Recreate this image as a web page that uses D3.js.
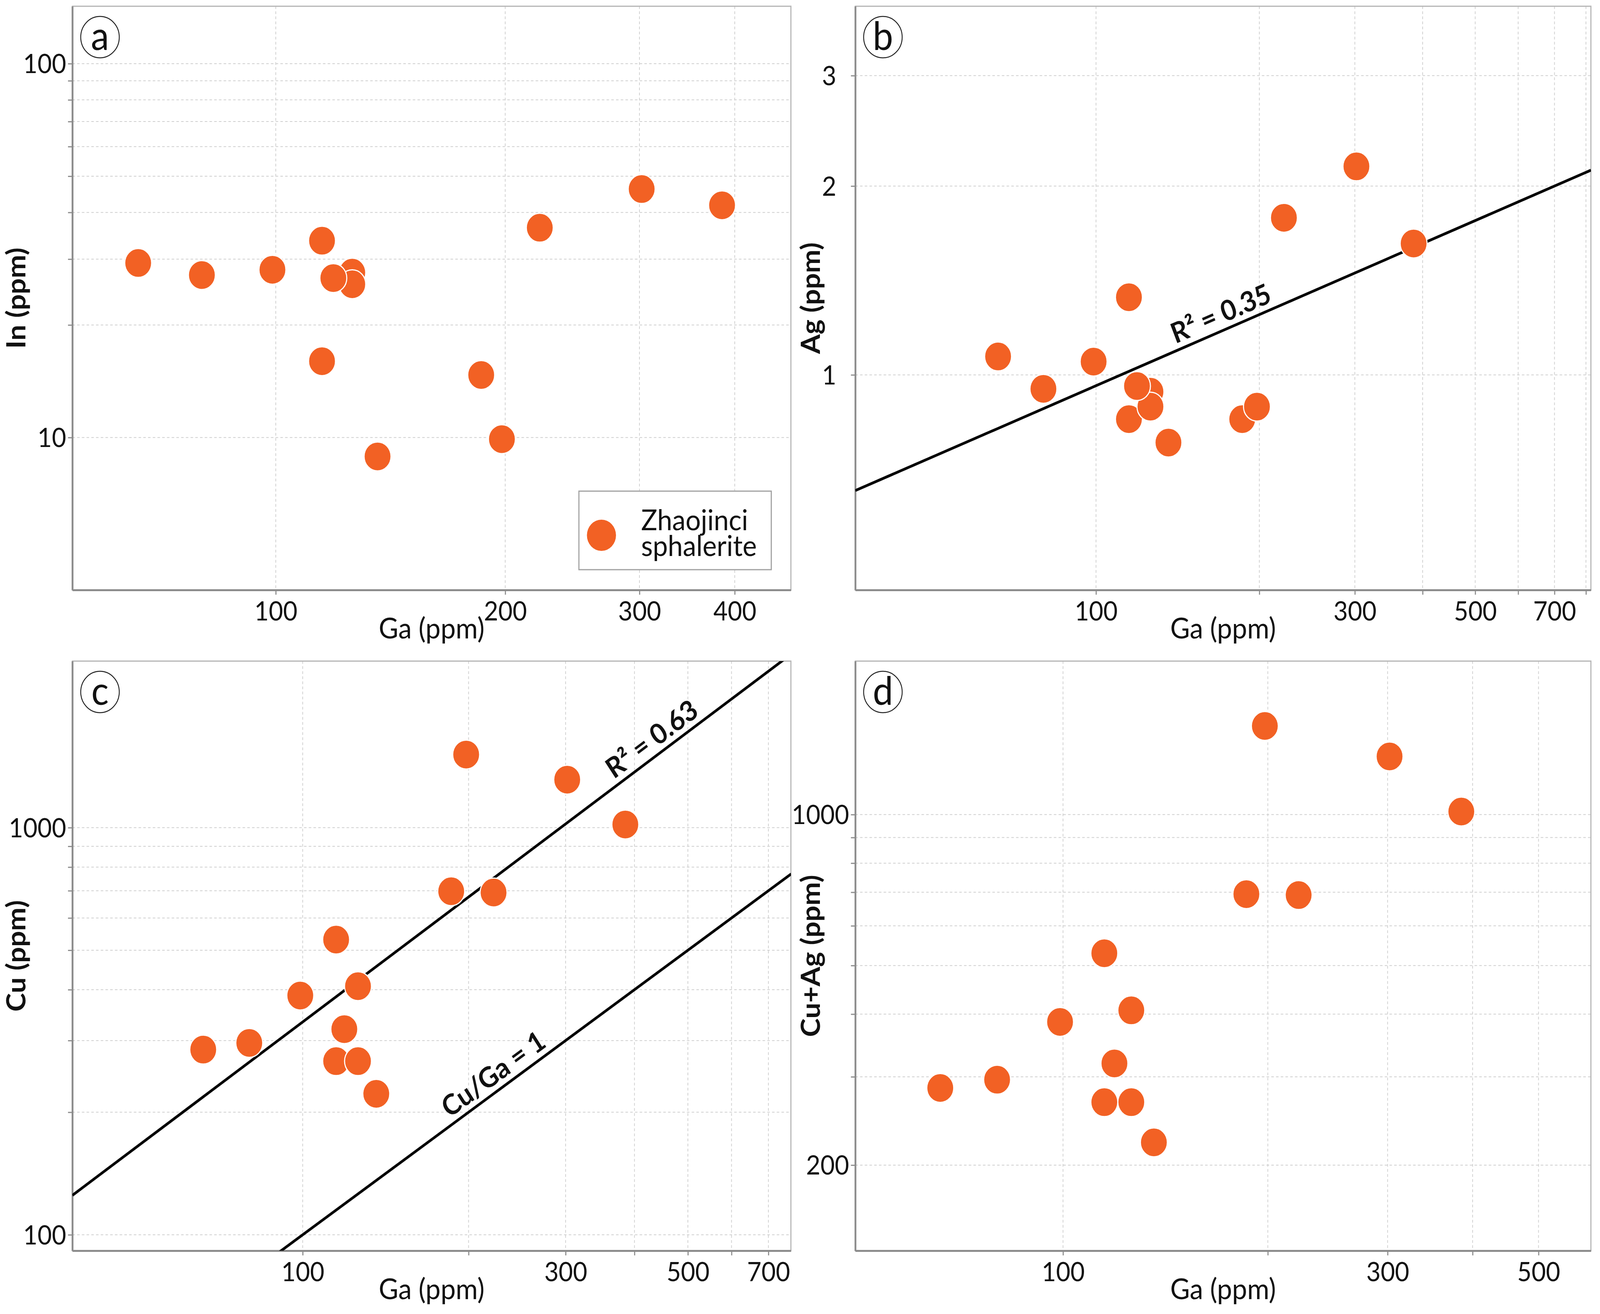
<!DOCTYPE html>
<html>
<head>
<meta charset="utf-8">
<script src="https://cdn.jsdelivr.net/npm/d3@7"></script>
<style>
  html, body { margin: 0; padding: 0; background: #fff; overflow: hidden; }
  svg { display: block; }
  text { font-family: Lato, "Open Sans", sans-serif; fill: #111; }
</style>
</head>
<body>
<script>
// canvas size
var width = 4400;
var height = 3363;

// samples (same Ga for every panel)
var gaPpm   = [66, 80, 99, 115, 115, 126, 126, 119, 136, 186, 198, 222, 302, 385];
var inPpm   = [29.3, 27.2, 28.1, 33.6, 16.0, 27.6, 25.7, 26.7, 8.9, 14.7, 9.9, 36.4, 46.2, 41.8];
var agPpm   = [1.07, 0.95, 1.05, 1.33, 0.85, 0.94, 0.89, 0.96, 0.78, 0.85, 0.89, 1.78, 2.15, 1.62];
var cuPpm   = [285, 296, 387, 531, 267, 408, 267, 320, 222, 698, 1512, 693, 1312, 1018];
var cuAgPpm = [285, 296, 386, 529, 267, 407, 267, 319, 222, 694, 1502, 691, 1306, 1014];

// fitted / reference lines (end points, Ga vs value)
var fitAg   = [[36, 0.654], [817, 2.12]];
var fitCu   = [[38.2, 125], [770, 2669]];
var unityCu = [[38.2, 38.2], [770, 770]];

// tick values
var aXGrid = [100, 200, 300, 400];
var aXLabels = [100, 200, 300, 400];
var aYGrid = [10, 20, 30, 40, 50, 60, 70, 80, 90, 100];
var aYLabels = [10, 100];
var bXGrid = [100, 200, 300, 400, 500, 600, 700, 800];
var bXLabels = [100, 300, 500, 700];
var bYGrid = [1, 2, 3];
var bYLabels = [1, 2, 3];
var cXGrid = [100, 200, 300, 400, 500, 600, 700];
var cXLabels = [100, 300, 500, 700];
var cYGrid = [100, 200, 300, 400, 500, 600, 700, 800, 900, 1000];
var cYLabels = [100, 1000];
var dXGrid = [100, 200, 300, 400, 500];
var dXLabels = [100, 300, 500];
var dYGrid = [200, 300, 400, 500, 600, 700, 800, 900, 1000];
var dYLabels = [200, 1000];

var legendLines = ["Zhaojinci", "sphalerite"];

var dotColor = "#f26124";

//svg scales to whatever the window really is
var svg = d3.select("body").append("svg")
  .attr("viewBox", "0 0 " + width + " " + height)
  .attr("preserveAspectRatio", "none")
  .style("width", "100vw")
  .style("height", "100vh");

var panels = [
  { id: "a", left: 199, right: 2175, top: 16, bottom: 1510,
    xDomain: [54.1, 474], yDomain: [3.91, 142.4], values: inPpm,
    yTitle: "In (ppm)", xGrid: aXGrid, xLabels: aXLabels, yGrid: aYGrid, yLabels: aYLabels,
    yLabelGap: 17, yTitleX: 129 },
  { id: "b", left: 2352, right: 4375, top: 16, bottom: 1510,
    xDomain: [36, 817], yDomain: [0.454, 3.87], values: agPpm,
    yTitle: "Ag (ppm)", xGrid: bXGrid, xLabels: bXLabels, yGrid: bYGrid, yLabels: bYLabels,
    yLabelGap: 52, yTitleX: 97,
    lines: [{ pts: fitAg, label: "R² = 0.35", at: 174 }] },
  { id: "c", left: 199, right: 2175, top: 1692, bottom: 3201,
    xDomain: [38.2, 769], yDomain: [91.4, 2565], values: cuPpm,
    yTitle: "Cu (ppm)", xGrid: cXGrid, xLabels: cXLabels, yGrid: cYGrid, yLabels: cYLabels,
    yLabelGap: 17, yTitleX: 129,
    lines: [{ pts: fitCu, label: "R² = 0.63", at: 446 },
            { pts: unityCu, label: "Cu/Ga = 1", at: 230 }] },
  { id: "d", left: 2352, right: 4375, top: 1692, bottom: 3201,
    xDomain: [49.5, 597], yDomain: [135, 2023], values: cuAgPpm,
    yTitle: "Cu+Ag (ppm)", xGrid: dXGrid, xLabels: dXLabels, yGrid: dYGrid, yLabels: dYLabels,
    yLabelGap: 17, yTitleX: 97 }
];

panels.forEach(drawPanel);

function drawPanel(p)
{
  var w = p.right - p.left;
  var h = p.bottom - p.top;
  var x = d3.scaleLog().domain(p.xDomain).range([0, w]);
  var y = d3.scaleLog().domain(p.yDomain).range([h, 0]);

  var g = svg.append("g").attr("transform", "translate(" + p.left + "," + p.top + ")");

  g.append("clipPath").attr("id", "clip-" + p.id)
    .append("rect").attr("width", w).attr("height", h);

  //grid
  g.selectAll(".vgrid").data(p.xGrid).enter().append("line")
    .attr("x1", function(d) { return x(d); }).attr("x2", function(d) { return x(d); })
    .attr("y1", 0).attr("y2", h)
    .attr("stroke", "#cfcfcf").attr("stroke-width", 2).attr("stroke-dasharray", "7,6");
  g.selectAll(".hgrid").data(p.yGrid).enter().append("line")
    .attr("y1", function(d) { return y(d); }).attr("y2", function(d) { return y(d); })
    .attr("x1", 0).attr("x2", w)
    .attr("stroke", "#cfcfcf").attr("stroke-width", 2).attr("stroke-dasharray", "7,6");

  //frame
  g.append("rect").attr("width", w).attr("height", h)
    .attr("fill", "none").attr("stroke", "#b4b4b4").attr("stroke-width", 3);

  //axes
  var xAxis = d3.axisBottom(x).tickValues(p.xGrid).tickSize(12).tickSizeOuter(0)
    .tickFormat(function(d) { return p.xLabels.indexOf(d) >= 0 ? d : ""; });
  var xa = g.append("g").attr("transform", "translate(0," + h + ")").call(xAxis);
  xa.select(".domain").attr("stroke", "#8c8c8c").attr("stroke-width", 5);
  xa.selectAll(".tick line").attr("stroke", "#8c8c8c").attr("stroke-width", 3);
  xa.selectAll(".tick text").attr("y", 78).attr("dy", 0)
    .style("font-family", "Lato").style("font-size", "68px").attr("fill", "#111");

  var yAxis = d3.axisLeft(y).tickValues(p.yGrid).tickSize(12).tickSizeOuter(0)
    .tickFormat(function(d) { return p.yLabels.indexOf(d) >= 0 ? d : ""; });
  var ya = g.append("g").call(yAxis);
  ya.select(".domain").attr("stroke", "#8c8c8c").attr("stroke-width", 5);
  ya.selectAll(".tick line").attr("stroke", "#8c8c8c").attr("stroke-width", 3);
  ya.selectAll(".tick text").attr("x", -p.yLabelGap).attr("dy", "0.35em")
    .style("font-family", "Lato").style("font-size", "68px").attr("fill", "#111");

  //axis titles
  g.append("text").attr("x", w / 2).attr("y", h + 124)
    .attr("text-anchor", "middle").style("font-size", "74px")
    .text("Ga (ppm)");
  g.append("text")
    .attr("transform", "translate(" + (-p.yTitleX) + "," + (h / 2) + ") rotate(-90)")
    .attr("text-anchor", "middle").style("font-size", "72px").style("font-weight", "bold")
    .text(p.yTitle);

  //lines with labels
  (p.lines || []).forEach(function(ln) {
    var x0 = x(ln.pts[0][0]), y0 = y(ln.pts[0][1]);
    var x1 = x(ln.pts[1][0]), y1 = y(ln.pts[1][1]);
    g.append("line")
      .attr("x1", x0).attr("y1", y0).attr("x2", x1).attr("y2", y1)
      .attr("clip-path", "url(#clip-" + p.id + ")")
      .attr("stroke", "#000").attr("stroke-width", 7);
    var lx = x(ln.at);
    var ly = y0 + (y1 - y0) * (lx - x0) / (x1 - x0);
    var ang = Math.atan2(y1 - y0, x1 - x0) * 180 / Math.PI;
    g.append("text")
      .attr("transform", "translate(" + lx + "," + ly + ") rotate(" + ang + ")")
      .attr("y", -17).attr("text-anchor", "middle")
      .style("font-size", "72px").style("font-weight", "bold")
      .text(ln.label);
  });

  //points
  g.append("g").attr("clip-path", "url(#clip-" + p.id + ")")
    .selectAll("circle")
    .data(gaPpm.map(function(d, i) { return [d, p.values[i]]; }))
    .enter().append("circle")
    .attr("cx", function(d) { return x(d[0]); })
    .attr("cy", function(d) { return y(d[1]); })
    .attr("r", 37)
    .attr("fill", dotColor).attr("stroke", "#fff").attr("stroke-width", 3);

  //panel letter
  g.append("circle").attr("cx", 76).attr("cy", 79).attr("r", 53)
    .attr("fill", "#fff").attr("stroke", "#222").attr("stroke-width", 2.5);
  g.append("text").attr("x", 76).attr("y", 79).attr("dy", "0.33em")
    .attr("text-anchor", "middle").style("font-size", "100px")
    .text(p.id);

  //legend (panel a only)
  if (p.id === "a") {
    var lg = g.append("g").attr("transform", "translate(" + (1592 - p.left) + "," + (1257 - p.top) + ")");
    lg.append("rect").attr("width", 529).attr("height", 201)
      .attr("fill", "#fff").attr("stroke", "#a0a0a0").attr("stroke-width", 3);
    lg.append("circle").attr("cx", 62).attr("cy", 113).attr("r", 40).attr("fill", dotColor);
    lg.append("text").attr("y", 100).style("font-size", "74px")
      .selectAll("tspan").data(legendLines).enter().append("tspan")
      .attr("x", 171)
      .attr("dy", function(d, i) { return i === 0 ? 0 : 66; })
      .text(function(d) { return d; });
  }
}
</script>
</body>
</html>
